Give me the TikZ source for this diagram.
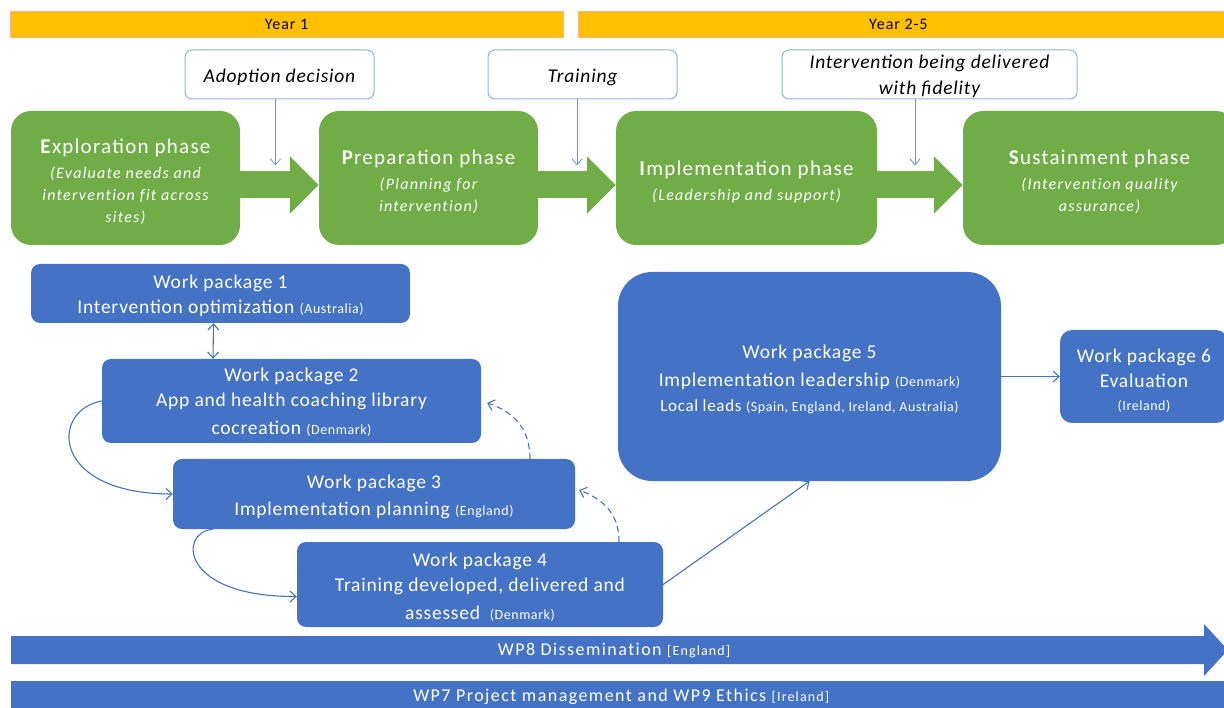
\documentclass[tikz,border=0pt]{standalone}
\usepackage{fontspec}
\setmainfont{Carlito}[LetterSpace=4]
\newfontfamily\widefam{Carlito}[LetterSpace=8,Ligatures=NoCommon]
\newfontfamily\midfam{Carlito}[LetterSpace=6]
\usetikzlibrary{arrows.meta,calc}
\definecolor{wpblue}{HTML}{4472C4}
\definecolor{phgreen}{HTML}{70AD47}
\definecolor{yearyellow}{HTML}{FFC000}
\definecolor{yearedge}{HTML}{F4B183}
\definecolor{calledge}{HTML}{8FB4E0}
\definecolor{calllink}{HTML}{5B9BD5}
\newcommand{\myfs}[2]{\fontsize{#1}{#2}\selectfont}
\newcommand{\smc}{\myfs{14}{16}}
\newcommand{\tp}[1]{\rule{0pt}{#1pt}}
\newcommand{\ttl}{\midfam\upshape\myfs{21}{26}}
\begin{document}
\begin{tikzpicture}[x=1pt,y=-1pt,
  yearbar/.style={fill=yearyellow, draw=yearedge, line width=0.8pt, inner sep=0pt, font=\midfam\myfs{16}{19}},
  callout/.style={draw=calledge, fill=white, rounded corners=7pt, line width=1pt, inner sep=0pt, align=center, font=\myfs{19.5}{26}\itshape},
  phase/.style={fill=phgreen, rounded corners=20pt, inner sep=0pt, align=center, text=white, font=\widefam\itshape\myfs{16}{22}},
  wp/.style={fill=wpblue, rounded corners=9pt, inner sep=0pt, align=center, text=white, font=\myfs{19.5}{25}},
  greenarrow/.style={draw=phgreen, line width=27pt, -{Triangle[length=29pt,width=56pt]}},
  thinarrow/.style={draw=calllink, line width=0.8pt, -{Straight Barb[length=6pt,width=10pt]}},
  conn/.style={draw=wpblue, line width=1.1pt, -{Straight Barb[length=6pt,width=11pt]}},
  dconn/.style={conn, dashed, dash pattern=on 6pt off 4pt},
  bar/.style={inner sep=0pt, text=white, font=\widefam\myfs{18}{20}}
]
\useasboundingbox (0,0) rectangle (1224,708);

% year bars
\node[yearbar, minimum width=553pt, minimum height=26pt] (y1) at (286.5,24) {Year 1};
\node[yearbar, minimum width=660pt, minimum height=26pt, anchor=west] (y2) at (578,24) {\hspace*{-20pt}Year 2-5};

% callouts
\node[callout, minimum width=189pt, minimum height=49pt] (adopt) at (279.5,74.5) {\tp{19.6}Adoption decision};
\node[callout, minimum width=189pt, minimum height=49pt] (train) at (582.5,74.5) {\tp{18.6}Training};
\node[callout, minimum width=295pt, minimum height=49pt] (fidel) at (929.5,74.5) {\tp{17.6}Intervention being delivered\\with fidelity};

% phases
\node[phase, minimum width=229pt, minimum height=134pt] (expl) at (125.5,178)
  {{\ttl\tp{21.5}\textbf{E}xploration phase}\\[3pt] (Evaluate needs and\\ intervention fit across\\ sites)};
\node[phase, minimum width=219pt, minimum height=134pt] (prep) at (428.5,178)
  {{\ttl\tp{22}\textbf{P}reparation phase}\\[3pt] (Planning for\\ intervention)};
\node[phase, minimum width=261pt, minimum height=134pt] (impl) at (746.5,178)
  {{\ttl\tp{22.5}\textbf{I}mplementation phase}\\[3pt] (Leadership and support)};
\node[phase, minimum width=273pt, minimum height=134pt] (sust) at (1099.5,178)
  {{\ttl\tp{22}\textbf{S}ustainment phase}\\[3pt] (Intervention quality\\ assurance)};

% green phase arrows
\draw[greenarrow] ([yshift=-7pt]expl.east) -- ([yshift=-7pt]prep.west);
\draw[greenarrow] ([yshift=-7pt]prep.east) -- ([yshift=-7pt]impl.west);
\draw[greenarrow] ([yshift=-7pt]impl.east) -- ([yshift=-7pt]sust.west);

% callout arrows
\draw[thinarrow] ([xshift=-4pt]adopt.south) -- ++(0,66);
\draw[thinarrow] ([xshift=-5.5pt]train.south) -- ++(0,66);
\draw[thinarrow] ([xshift=-14.5pt]fidel.south) -- ++(0,66);

% work packages
\node[wp, minimum width=379pt, minimum height=59pt] (wp1) at (220.5,293.5)
  {\tp{18.6}Work package 1\\ Intervention optimization {\smc(Australia)}};
\node[wp, minimum width=379pt, minimum height=84pt] (wp2) at (291.5,401)
  {\tp{16.6}Work package 2\\ App and health coaching library\\[3pt] cocreation {\smc(Denmark)}};
\node[wp, minimum width=402pt, minimum height=70pt] (wp3) at (374,494)
  {\tp{18.6}Work package 3\\[2pt] Implementation planning {\smc(England)}};
\node[wp, minimum width=366pt, minimum height=85pt] (wp4) at (480,584.5)
  {\tp{18.6}Work package 4\\ Training developed, delivered and\\[3pt] assessed\enspace{\smc(Denmark)}};
\node[wp, rounded corners=34pt, minimum width=383pt, minimum height=209pt] (wp5) at (809.5,376.5)
  {\tp{19.6}Work package 5\\[3pt] Implementation leadership {\smc(Denmark)}\\ {\myfs{17}{20}Local leads {\smc(Spain, England, Ireland, Australia)}}};
\node[wp, rounded corners=12pt, minimum width=168pt, minimum height=93pt] (wp6) at (1144,376.5)
  {\tp{21.6}Work package 6\\ Evaluation\\[-2pt] {\smc(Ireland)}};

% connectors
\draw[conn, {Straight Barb[length=6pt,width=11pt]}-{Straight Barb[length=6pt,width=11pt]}]
  ([xshift=-7pt]wp1.south) -- ([xshift=-78.5pt]wp2.north);
\draw[conn] (wp2.west) .. controls (50,410) and (50,494) .. (wp3.west);
\draw[conn] ([xshift=-161pt]wp3.south) .. controls (178,532) and (180,597) .. ([yshift=-12pt]wp4.west);
\draw[dconn] ([xshift=156pt]wp3.north) .. controls (530,430) and (515,412) .. ([xshift=6pt,yshift=-2pt]wp2.east);
\draw[dconn] ([xshift=139pt]wp4.north) .. controls (619,515) and (605,500) .. ([xshift=4pt,yshift=4pt]wp3.east);
\draw[conn] (wp4.east) -- (wp5.south);
\draw[conn] (wp5.east) -- (wp6.west);

% WP8 dissemination arrow
\fill[wpblue] (11,636) -- (1204,636) -- (1204,624) -- (1228,650) -- (1204,676) -- (1204,664) -- (11,664) -- cycle;
\node[bar] (wp8) at (614,651) {WP8 Dissemination {\smc[England]}};

% WP7 bar
\node[fill=wpblue, minimum width=1220pt, minimum height=32pt, anchor=north west, inner sep=0pt, text=white, font=\widefam\myfs{18}{20}] (wp7) at (11,681)
  {\raisebox{4pt}{WP7 Project management and WP9 Ethics {\smc[Ireland]}}};
\end{tikzpicture}
\end{document}
